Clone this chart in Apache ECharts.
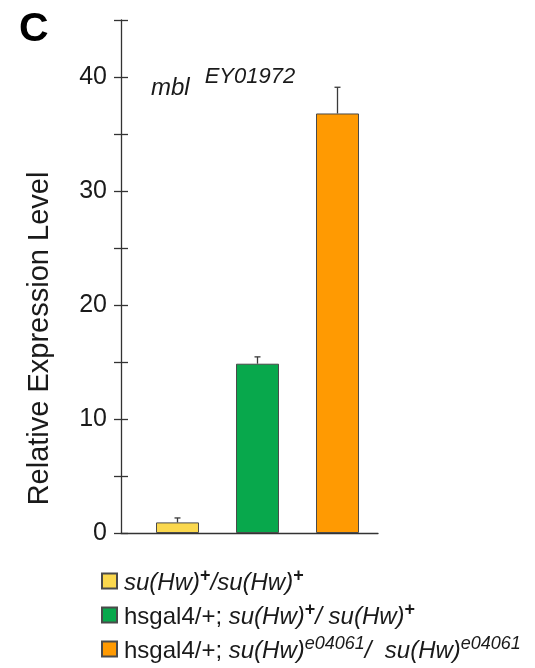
<!DOCTYPE html>
<html>
<head>
<meta charset="utf-8">
<script src="https://cdn.jsdelivr.net/npm/echarts@6/dist/echarts.min.js"></script>
<style>
  html, body { margin: 0; padding: 0; background: #fff; }
  #chart { width: 535px; height: 668px; }
</style>
</head>
<body>
<div id="chart"></div>
<script>
// Genotypes shown on the x axis (one bar each)
const categories = [
  'su(Hw)+/su(Hw)+',
  'hsgal4/+; su(Hw)+/ su(Hw)+',
  'hsgal4/+; su(Hw)e04061/ su(Hw)e04061'
];
// Mean relative expression of mbl EY01972 and the top of each error bar
const meanValues = [0.93, 14.85, 36.8];
const errorTops = [1.32, 15.45, 39.1];
const barColors = ['#FBD84E', '#08A84C', '#FF9A02'];
// Rich-text legend labels (italic gene names, superscript alleles)
const legendLabels = [
  '{i|su(Hw)}{s|+}{i|/su(Hw)}{s|+}',
  '{n|hsgal4/+; }{i|su(Hw)}{s|+}{i|/ su(Hw)}{s|+}',
  '{n|hsgal4/+; }{i|su(Hw)}{si|e04061}{i|/  su(Hw)}{si|e04061}'
];
const yMin = 0, yMax = 45, yStep = 5;

const FONT = '"Liberation Sans", Arial, Helvetica, sans-serif';
const INK = '#1a1a1a';
const AXIS = '#333';

const chart = echarts.init(document.getElementById('chart'), null, { renderer: 'canvas' });

const gridBox = { top: 20, bottom: 135 };

const barSeries = categories.map((name, i) => ({
  name: name,
  type: 'bar',
  xAxisIndex: 1,
  yAxisIndex: 2,
  barWidth: 43,
  barGap: '-100%',
  data: categories.map((_, j) => (j === i ? meanValues[i] : '-')),
  itemStyle: { color: barColors[i], borderColor: '#4a4a4a', borderWidth: 1 },
  z: 2
}));

const errorSeries = {
  type: 'custom',
  xAxisIndex: 1,
  yAxisIndex: 2,
  z: 3,
  data: categories.map((_, i) => [i, errorTops[i], meanValues[i]]),
  renderItem: function (params, api) {
    const top = api.coord([api.value(0), api.value(1)]);
    const base = api.coord([api.value(0), api.value(2)]);
    const st = { stroke: '#3a3a3a', lineWidth: 1.3 };
    return {
      type: 'group',
      children: [
        { type: 'line', shape: { x1: top[0], y1: top[1], x2: base[0], y2: base[1] }, style: st },
        { type: 'line', shape: { x1: top[0] - 3, y1: top[1], x2: top[0] + 3, y2: top[1] }, style: st }
      ]
    };
  }
};

const option = {
  backgroundColor: '#fff',
  animation: false,
  textStyle: { fontFamily: FONT },
  title: [
    {
      text: 'C',
      left: 14, top: 4,
      textStyle: { fontFamily: FONT, fontSize: 41, fontWeight: 'bold', color: '#000' }
    },
    {
      text: '{i|mbl}{s|EY01972}',
      left: 146, top: 61,
      textStyle: {
        fontFamily: FONT, fontWeight: 'normal',
        rich: {
          i: { fontFamily: FONT, fontStyle: 'italic', fontWeight: 'normal', fontSize: 24, color: INK, lineHeight: 34, verticalAlign: 'bottom' },
          s: { fontFamily: FONT, fontStyle: 'italic', fontWeight: 'normal', fontSize: 22, color: INK, lineHeight: 34, verticalAlign: 'top', padding: [0, 0, 0, 15] }
        }
      }
    }
  ],
  legend: {
    orient: 'vertical',
    left: 101, top: 567,
    padding: 0,
    itemWidth: 15, itemHeight: 15,
    itemGap: 6,
    icon: 'rect',
    data: categories,
    formatter: name => legendLabels[categories.indexOf(name)],
    textStyle: {
      fontFamily: FONT, fontSize: 24, color: INK,
      padding: [0, 0, 0, 2],
      rich: {
        n: { fontFamily: FONT, fontSize: 24, color: INK, lineHeight: 28, verticalAlign: 'bottom' },
        i: { fontFamily: FONT, fontStyle: 'italic', fontSize: 24, color: INK, lineHeight: 28, verticalAlign: 'bottom' },
        s: { fontFamily: FONT, fontSize: 18, fontWeight: 'bold', color: INK, lineHeight: 28, verticalAlign: 'top' },
        si: { fontFamily: FONT, fontStyle: 'italic', fontSize: 18, color: INK, lineHeight: 28, verticalAlign: 'top' }
      }
    }
  },
  grid: [
    { left: 121, right: 157, top: gridBox.top, bottom: gridBox.bottom },
    { left: 137.5, right: 157.5, top: gridBox.top, bottom: gridBox.bottom }
  ],
  xAxis: [
    {
      gridIndex: 0, type: 'value', min: 0, max: 1,
      axisLine: { show: true, lineStyle: { color: AXIS, width: 1.3 } },
      axisTick: { show: false }, axisLabel: { show: false }, splitLine: { show: false }
    },
    {
      gridIndex: 1, type: 'category', data: categories, show: false
    }
  ],
  yAxis: [
    {
      gridIndex: 0, type: 'value', position: 'left',
      min: yMin, max: yMax, interval: yStep,
      name: 'Relative Expression Level',
      nameLocation: 'middle', nameGap: 67,
      nameTextStyle: { fontFamily: FONT, fontSize: 29, color: INK, padding: [0, 124, 0, 0] },
      axisLine: { show: true, lineStyle: { color: AXIS, width: 1.3 } },
      axisTick: { show: true, length: 7, lineStyle: { color: AXIS, width: 1.3 } },
      axisLabel: {
        margin: 14, fontFamily: FONT, fontSize: 25, color: INK,
        formatter: v => (v % 10 === 0 ? String(v) : '')
      },
      splitLine: { show: false }
    },
    {
      gridIndex: 0, type: 'value', position: 'left',
      min: yMin, max: yMax, interval: yStep,
      axisLine: { show: false },
      axisTick: { show: true, inside: true, length: 7, lineStyle: { color: AXIS, width: 1.3 } },
      axisLabel: { show: false },
      splitLine: { show: false }
    },
    {
      gridIndex: 1, type: 'value', min: yMin, max: yMax, show: false
    }
  ],
  series: barSeries.concat([errorSeries])
};

chart.setOption(option);
</script>
</body>
</html>
